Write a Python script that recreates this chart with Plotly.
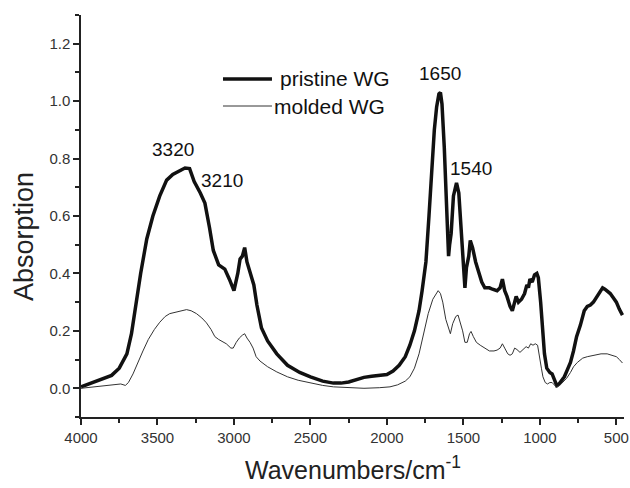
import plotly.graph_objects as go

# Wavenumber (cm-1) and absorption for pristine WG
pristine_wn = [4000, 3930, 3870, 3800, 3750, 3700, 3670, 3640, 3610, 3570, 3530, 3485, 3440, 3400,
               3360, 3320, 3290, 3260, 3220, 3190, 3160, 3135, 3100, 3060, 3030, 3000, 2975, 2960,
               2945, 2930, 2915, 2890, 2870, 2850, 2820, 2780, 2720, 2650, 2570, 2500, 2420, 2350,
               2300, 2250, 2200, 2150, 2100, 2050, 2000, 1960, 1920, 1880, 1850, 1820, 1790, 1770,
               1745, 1725, 1710, 1690, 1675, 1660, 1650, 1640, 1625, 1610, 1597, 1590, 1580, 1565,
               1545, 1530, 1515, 1500, 1490, 1480, 1465, 1455, 1440, 1420, 1400, 1380, 1360, 1330,
               1310, 1280, 1260, 1245, 1230, 1215, 1195, 1180, 1165, 1155, 1140, 1120, 1100, 1085,
               1075, 1065, 1050, 1035, 1020, 1010, 995, 985, 970, 955, 935, 920, 905, 890, 875, 860,
               840, 820, 800, 780, 760, 735, 710, 690, 670, 650, 630, 610, 590, 575, 560, 540, 520,
               500, 480, 460]
pristine_abs = [0.005, 0.02, 0.03, 0.045, 0.07, 0.12, 0.19, 0.30, 0.40, 0.52, 0.60, 0.67, 0.725, 0.745,
                0.755, 0.767, 0.765, 0.72, 0.68, 0.645, 0.56, 0.48, 0.43, 0.415, 0.38, 0.34, 0.40, 0.45,
                0.46, 0.49, 0.44, 0.40, 0.36, 0.29, 0.21, 0.165, 0.12, 0.08, 0.055, 0.04, 0.025, 0.018,
                0.018, 0.022, 0.03, 0.038, 0.042, 0.044, 0.048, 0.06, 0.08, 0.11, 0.15, 0.20, 0.27, 0.34,
                0.44, 0.60, 0.73, 0.90, 0.98, 1.025, 1.03, 0.99, 0.84, 0.62, 0.46, 0.50, 0.54, 0.67,
                0.715, 0.68, 0.56, 0.42, 0.35, 0.42, 0.46, 0.515, 0.49, 0.44, 0.40, 0.37, 0.35, 0.35,
                0.345, 0.34, 0.35, 0.38, 0.34, 0.32, 0.285, 0.27, 0.30, 0.32, 0.30, 0.31, 0.33, 0.36,
                0.35, 0.38, 0.37, 0.395, 0.40, 0.385, 0.30, 0.22, 0.12, 0.07, 0.055, 0.05, 0.03, 0.01, 0.015, 0.025,
                0.04, 0.065, 0.09, 0.13, 0.18, 0.22, 0.27, 0.285, 0.29, 0.30, 0.315, 0.33, 0.35, 0.345, 0.34, 0.33, 0.315,
                0.30, 0.275, 0.255]

# Wavenumber (cm-1) and absorption for molded WG
molded_wn = [4000, 3900, 3800, 3740, 3710, 3690, 3660, 3630, 3595, 3560, 3520, 3485, 3450, 3420, 3380,
             3340, 3310, 3280, 3245, 3210, 3180, 3150, 3125, 3100, 3075, 3050, 3020, 3005, 2985, 2965,
             2945, 2930, 2915, 2895, 2875, 2855, 2830, 2780, 2720, 2650, 2580, 2500, 2420, 2350, 2250,
             2150, 2050, 1980, 1930, 1880, 1850, 1820, 1790, 1760, 1730, 1700, 1675, 1665, 1650, 1635,
             1615, 1600, 1585, 1570, 1550, 1535, 1520, 1505, 1490, 1475, 1460, 1450, 1435, 1415, 1390,
             1360, 1330, 1300, 1280, 1260, 1245, 1230, 1210, 1195, 1180, 1165, 1150, 1130, 1110, 1090,
             1075, 1060, 1045, 1030, 1015, 1000, 990, 980, 965, 950, 935, 920, 905, 890, 870, 850, 825,
             800, 780, 755, 720, 690, 650, 600, 560, 530, 500, 480, 460]
molded_abs = [0.0, 0.005, 0.01, 0.015, 0.01, 0.02, 0.05, 0.09, 0.13, 0.17, 0.205, 0.23, 0.25, 0.26, 0.265,
              0.27, 0.274, 0.27, 0.26, 0.245, 0.228, 0.205, 0.18, 0.17, 0.163, 0.155, 0.14, 0.14, 0.16, 0.175,
              0.185, 0.19, 0.175, 0.16, 0.14, 0.11, 0.095, 0.075, 0.057, 0.04, 0.028, 0.018, 0.01, 0.005, 0.002,
              0.0, 0.002, 0.005, 0.012, 0.025, 0.04, 0.07, 0.12, 0.19, 0.26, 0.31, 0.335, 0.34, 0.33, 0.30,
              0.24, 0.21, 0.19, 0.225, 0.25, 0.255, 0.23, 0.20, 0.16, 0.16, 0.19, 0.198, 0.18, 0.16, 0.15,
              0.14, 0.13, 0.13, 0.133, 0.14, 0.155, 0.14, 0.12, 0.115, 0.12, 0.14, 0.135, 0.125, 0.135, 0.145,
              0.14, 0.155, 0.15, 0.155, 0.15, 0.11, 0.07, 0.04, 0.02, 0.015, 0.02, 0.02, 0.01, 0.003, 0.01, 0.02, 0.035,
              0.055, 0.075, 0.09, 0.105, 0.11, 0.115, 0.12, 0.12, 0.115, 0.11, 0.10, 0.088]

series_names = ["pristine WG", "molded WG"]
peak_labels = ["3320", "3210", "1650", "1540"]
peak_label_x = [3400, 3080, 1652, 1450]
peak_label_y = [0.83, 0.725, 1.095, 0.764]

x_tickvals = [4000, 3500, 3000, 2500, 2000, 1500, 1000, 500]
y_tickvals = [0.0, 0.2, 0.4, 0.6, 0.8, 1.0, 1.2]

FONT = "Liberation Sans, Arial, sans-serif"
series_colors = ["#111111", "#333333"]
series_widths = [3.5, 1]

fig = go.Figure()
fig.add_trace(go.Scatter(x=pristine_wn, y=pristine_abs, mode="lines", name=series_names[0],
                         line=dict(color=series_colors[0], width=series_widths[0])))
fig.add_trace(go.Scatter(x=molded_wn, y=molded_abs, mode="lines", name=series_names[1],
                         line=dict(color=series_colors[1], width=series_widths[1])))

for lab, lx, ly in zip(peak_labels, peak_label_x, peak_label_y):
    fig.add_annotation(x=lx, y=ly, text=lab, showarrow=False,
                       font=dict(family=FONT, size=19, color="#111111"))

# manual legend (line samples + labels, in paper coordinates)
legend_rows_y = [0.8408, 0.7736]
legend_line_x = [0.2615, 0.3517]
legend_text_x = [0.3628, 0.3517]
for name, col, w, ly, tx in zip(series_names, series_colors, series_widths, legend_rows_y, legend_text_x):
    fig.add_shape(type="line", xref="paper", yref="paper", x0=legend_line_x[0], x1=legend_line_x[1],
                  y0=ly, y1=ly, line=dict(color=col, width=w))
    fig.add_annotation(xref="paper", yref="paper", x=tx, y=ly, text=name, showarrow=False,
                       xanchor="left", yanchor="middle",
                       font=dict(family=FONT, size=21, color="#111111"))

# axis titles
fig.add_annotation(xref="paper", yref="paper", x=-0.105, y=0.45, text="Absorption", showarrow=False,
                   textangle=-90, xanchor="center", yanchor="middle",
                   font=dict(family=FONT, size=27, color="#222222"))
fig.add_annotation(xref="paper", yref="paper", x=0.5, y=-0.172, text="Wavenumbers/cm<sup>-1</sup>",
                   showarrow=False, xanchor="center", yanchor="bottom",
                   font=dict(family=FONT, size=25, color="#222222"))

axis_common = dict(showline=True, linecolor="#222222", linewidth=1.5, ticks="outside",
                   ticklen=6, tickwidth=1.5, tickcolor="#222222", showgrid=False, zeroline=False,
                   automargin=False, ticklabeloverflow="allow",
                   tickfont=dict(family=FONT, size=15, color="#333333"))

fig.update_xaxes(range=[4000, 450], tickvals=x_tickvals,
                 minor=dict(ticks="outside", ticklen=4, tickwidth=1.5, tickcolor="#222222", dtick=250, tick0=0),
                 **axis_common)
fig.update_yaxes(range=[-0.1, 1.3], tickvals=y_tickvals, tickformat=".1f",
                 minor=dict(ticks="outside", ticklen=4, tickwidth=1.5, tickcolor="#222222", dtick=0.1, tick0=0),
                 **axis_common)

fig.update_layout(
    width=630, height=488,
    margin=dict(l=81, r=6, t=15, b=71),
    paper_bgcolor="white", plot_bgcolor="white",
    showlegend=False,
)

# remove the default 8px page margin so the figure fills the window exactly; hide the mode bar
fig.write_html("out.html", config={"displayModeBar": False},
               post_script="document.body.style.margin='0px';document.body.style.overflow='hidden';")
